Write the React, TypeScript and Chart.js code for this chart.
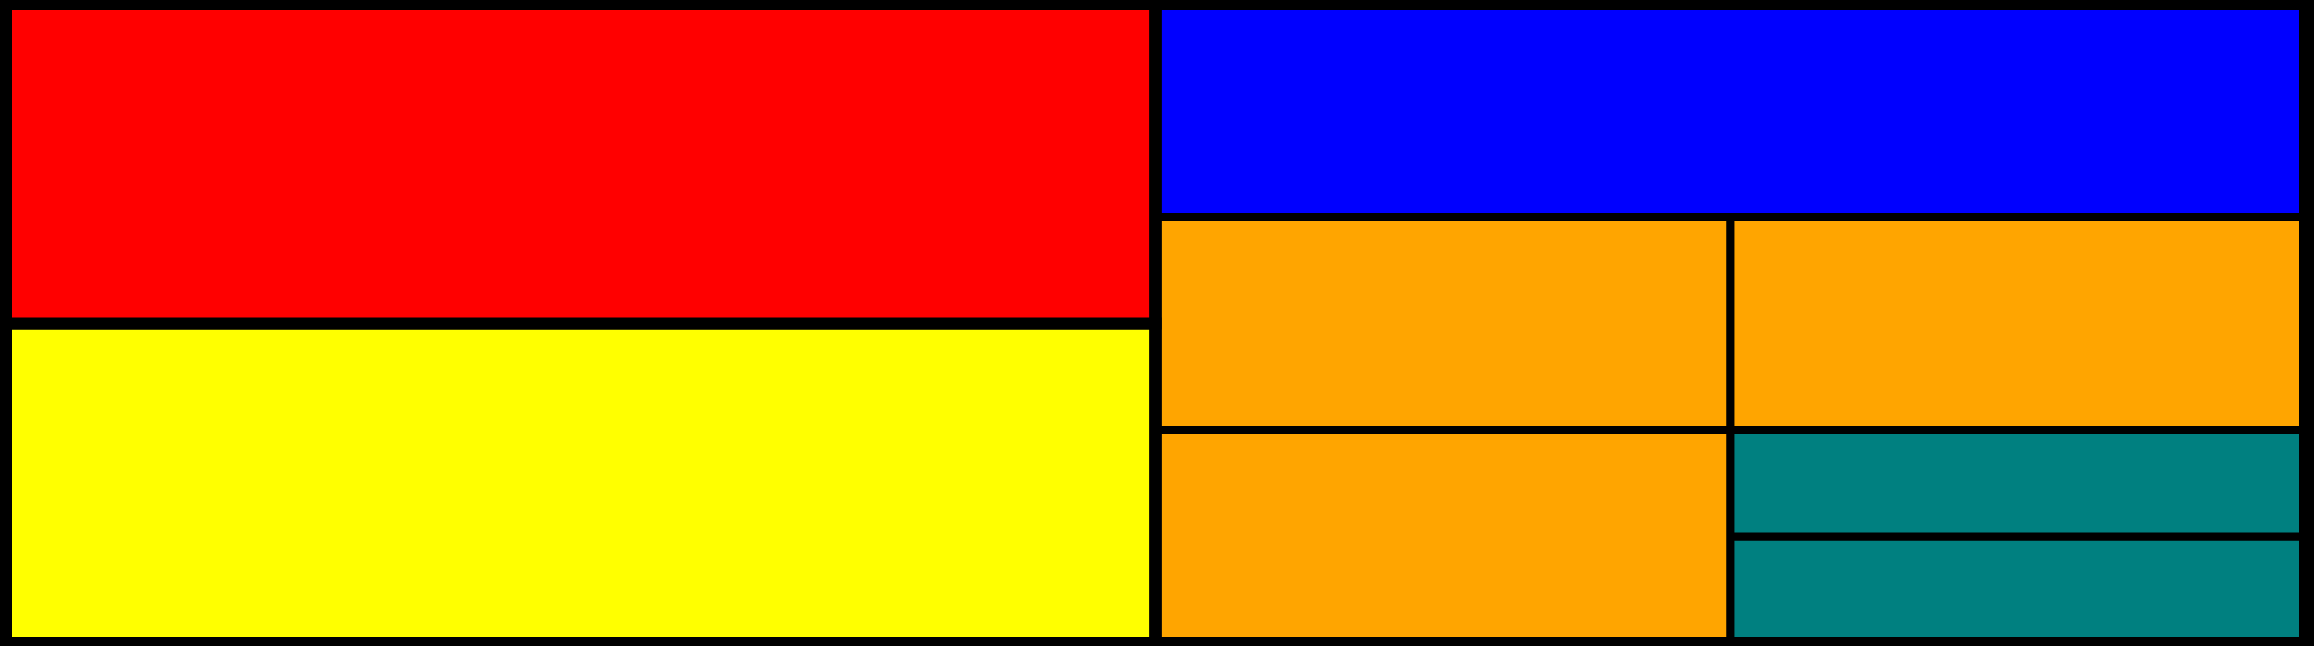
import React, { useEffect, useRef } from 'react';
import { Chart, registerables } from 'chart.js';

Chart.register(...registerables);

// cells of the layout, in grid units (x: 0-4, y: 0-12 from the top)
const cellNames = ['red', 'yellow', 'blue', 'orange 1', 'orange 2', 'orange 3', 'teal 1', 'teal 2'];
const cellX0 = [0, 0, 2, 2, 3, 2, 3, 3];
const cellX1 = [2, 2, 4, 3, 4, 3, 4, 4];
const cellY0 = [0, 6, 0, 4, 4, 8, 8, 10];
const cellY1 = [6, 12, 4, 8, 8, 12, 10, 12];

// the two top-level halves that hold the cells
const groupNames = ['left', 'right'];
const groupX0 = [0, 2];
const groupX1 = [2, 4];
const groupY0 = [0, 0];
const groupY1 = [12, 12];

const cellColors = ['#ff0000', '#ffff00', '#0000ff', '#ffa500', '#ffa500', '#ffa500', '#008080', '#008080'];
const cellGap = [12, 12, 8, 8, 8, 8, 8, 8];
const groupGap = 12;

const rect = (x0: number, x1: number, y0: number, y1: number) => [
  { x: x0, y: y0 },
  { x: x1, y: y0 },
  { x: x1, y: y1 },
  { x: x0, y: y1 },
  { x: x0, y: y0 },
];

const App: React.FC = () => {
  const canvasRef = useRef<HTMLCanvasElement>(null);
  const chartRef = useRef<Chart | null>(null);

  useEffect(() => {
    document.body.style.margin = '0';
    document.body.style.background = '#000';
    if (!canvasRef.current) return;

    if (chartRef.current) {
      chartRef.current.destroy();
    }

    const cells = cellNames.map((name, i) => ({
      label: name,
      data: rect(cellX0[i], cellX1[i], cellY0[i], cellY1[i]),
      order: 1,
      showLine: true,
      fill: 'shape' as const,
      backgroundColor: cellColors[i],
      borderColor: '#000',
      borderWidth: cellGap[i],
      borderJoinStyle: 'miter' as const,
      borderCapStyle: 'square' as const,
      tension: 0,
      pointRadius: 0,
      pointHoverRadius: 0,
      clip: false as const,
    }));

    // outlines of the halves, drawn on top so the top-level gap is wider
    const groups = groupNames.map((name, i) => ({
      label: name,
      data: rect(groupX0[i], groupX1[i], groupY0[i], groupY1[i]),
      order: 0,
      showLine: true,
      fill: false,
      borderColor: '#000',
      borderWidth: groupGap,
      borderJoinStyle: 'miter' as const,
      borderCapStyle: 'square' as const,
      tension: 0,
      pointRadius: 0,
      pointHoverRadius: 0,
      clip: false as const,
    }));

    chartRef.current = new Chart(canvasRef.current, {
      type: 'scatter',
      data: { datasets: [...groups, ...cells] },
      options: {
        animation: false,
        responsive: true,
        maintainAspectRatio: false,
        devicePixelRatio: 1,
        events: [],
        layout: {
          padding: { left: 6, right: 9, top: 4, bottom: 3 },
        },
        scales: {
          x: { type: 'linear', min: 0, max: 4, display: false },
          y: { type: 'linear', min: 0, max: 12, reverse: true, display: false },
        },
        plugins: {
          legend: { display: false },
          tooltip: { enabled: false },
          title: { display: false },
        },
      },
    });

    return () => {
      if (chartRef.current) {
        chartRef.current.destroy();
        chartRef.current = null;
      }
    };
  }, []);

  return (
    <div style={{ position: 'relative', width: '2314px', height: '646px', background: '#000' }}>
      <canvas ref={canvasRef}></canvas>
    </div>
  );
};

export default App;
